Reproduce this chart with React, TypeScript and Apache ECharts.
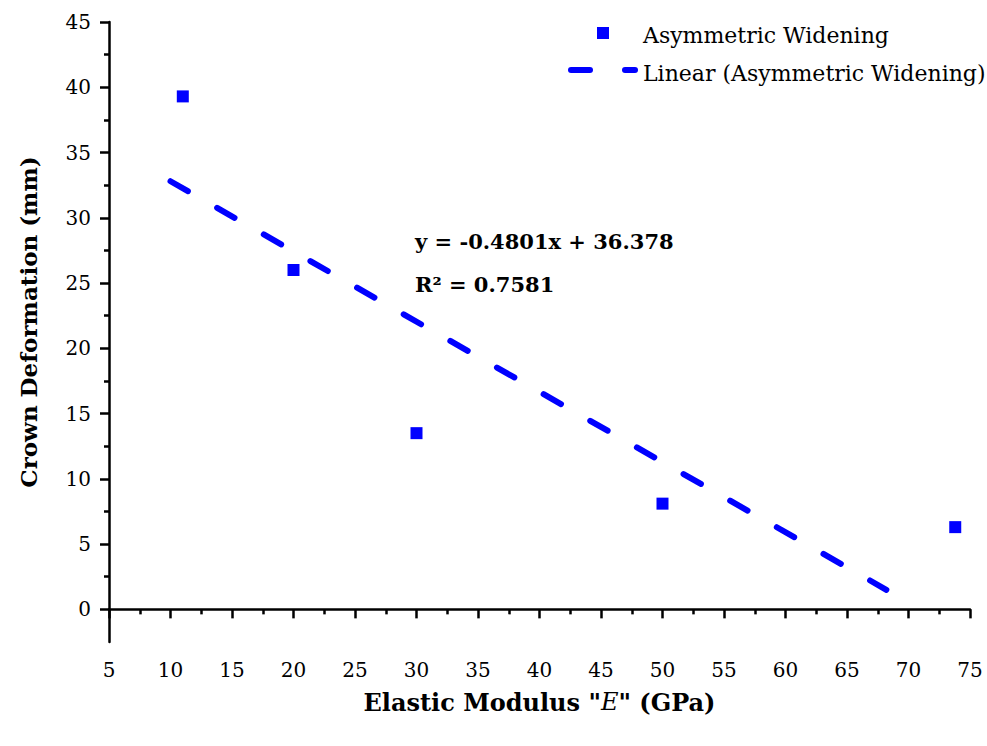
import React, { useEffect, useRef } from "react";
import * as echarts from "echarts";

// ---- data ----
const xValues = [11, 20, 30, 50, 73.8];
const yValues = [39.3, 26.0, 13.5, 8.1, 6.3];
const trendX = [10, 68.2];
const trendY = [32.8, 1.5];
const yMajorTicks = [0, 5, 10, 15, 20, 25, 30, 35, 40, 45];
const yMinorTicks = [2.5, 7.5, 12.5, 17.5, 22.5, 27.5, 32.5, 37.5, 42.5];
const seriesName = "Asymmetric Widening";
const trendName = "Linear (Asymmetric Widening)";
const equationLines = ["y = -0.4801x + 36.378", "R² = 0.7581"];
const yTitle = "Crown Deformation (mm)";

const FONT = "'DejaVu Serif', 'Liberation Serif', serif";
const BLUE = "#0000ff";

export default function App() {
  const ref = useRef<HTMLDivElement>(null);
  useEffect(() => {
    if (!ref.current) return;
    const chart = echarts.init(ref.current, undefined, { renderer: "svg" });
    const scatterData = xValues.map((x, i) => [x, yValues[i]]);
    const trendData = trendX.map((x, i) => [x, trendY[i]]);
    const ls = () => ({ color: "#000000", width: 2.5, opacity: 1 });
    chart.setOption({
      animation: false,
      backgroundColor: "#fff",
      grid: { left: 109, right: 17, top: 22, bottom: 104, containLabel: false },
      xAxis: {
        type: "value",
        min: 5,
        max: 75,
        interval: 5,
        axisLine: { show: true, lineStyle: ls() },
        axisTick: { show: true, length: 9, lineStyle: ls() },
        minorTick: { show: true, splitNumber: 2, length: 5, lineStyle: ls() },
        splitLine: { show: false },
        minorSplitLine: { show: false },
        axisLabel: { fontSize: 20, color: "#000", fontFamily: FONT, margin: 18 },
        name: '{b|Elastic Modulus "}{bi|E}{b|" (GPa)}',
        nameLocation: "middle",
        nameGap: 48,
        nameTextStyle: {
          rich: {
            b: { fontSize: 24, fontWeight: "bold", fontFamily: FONT, color: "#000" },
            bi: { fontSize: 24, fontWeight: "normal", fontStyle: "italic", fontFamily: FONT, color: "#000" },
          },
        },
      },
      yAxis: [
        {
          type: "value",
          min: -2.5,
          max: 45,
          axisLine: { show: true, lineStyle: ls() },
          axisTick: { show: true, length: 9, lineStyle: ls(), customValues: yMajorTicks },
          axisLabel: { fontSize: 20, color: "#000", fontFamily: FONT, margin: 18, customValues: yMajorTicks },
          splitLine: { show: false },
        },
        {
          type: "value",
          min: -2.5,
          max: 45,
          position: "left",
          axisLine: { show: false },
          axisTick: { show: true, length: 5, lineStyle: ls(), customValues: yMinorTicks },
          axisLabel: { show: false },
          splitLine: { show: false },
        },
      ],
      series: [
        {
          name: trendName,
          type: "line",
          data: trendData,
          showSymbol: false,
          symbol: "none",
          lineStyle: { color: BLUE, width: 6, type: [20, 33.7], cap: "round", opacity: 1 },
          z: 2,
        },
        {
          name: seriesName,
          type: "scatter",
          data: scatterData,
          symbol: "rect",
          symbolSize: 12,
          itemStyle: { color: BLUE, opacity: 1 },
          emphasis: { disabled: true },
          z: 3,
        },
      ],
      graphic: [
        {
          type: "text",
          x: 28,
          y: 322,
          rotation: Math.PI / 2,
          style: {
            text: yTitle,
            fontSize: 23,
            fontWeight: "bold",
            fontFamily: FONT,
            fill: "#000",
            align: "center",
            verticalAlign: "middle",
          },
        },
        {
          type: "rect",
          shape: { x: 597, y: 27, width: 12, height: 12 },
          style: { fill: BLUE },
        },
        {
          type: "text",
          x: 643,
          y: 35,
          style: { text: seriesName, fontSize: 22, fontFamily: FONT, fill: "#000", verticalAlign: "middle" },
        },
        {
          type: "line",
          shape: { x1: 571, y1: 70, x2: 590, y2: 70 },
          style: { stroke: BLUE, lineWidth: 6, lineCap: "round" },
        },
        {
          type: "line",
          shape: { x1: 625, y1: 70, x2: 635, y2: 70 },
          style: { stroke: BLUE, lineWidth: 6, lineCap: "round" },
        },
        {
          type: "text",
          x: 643,
          y: 73,
          style: { text: trendName, fontSize: 22, fontFamily: FONT, fill: "#000", verticalAlign: "middle" },
        },
        {
          type: "text",
          x: 415,
          y: 241,
          style: { text: equationLines[0], fontSize: 21, fontWeight: "bold", fontFamily: FONT, fill: "#000", verticalAlign: "middle" },
        },
        {
          type: "text",
          x: 415,
          y: 284,
          style: { text: equationLines[1], fontSize: 21, fontWeight: "bold", fontFamily: FONT, fill: "#000", verticalAlign: "middle" },
        },
      ],
    });
    return () => chart.dispose();
  }, []);
  return (
    <div
      ref={ref}
      style={{ position: "fixed", left: 0, top: 0, width: 987, height: 746, background: "#fff" }}
    />
  );
}
